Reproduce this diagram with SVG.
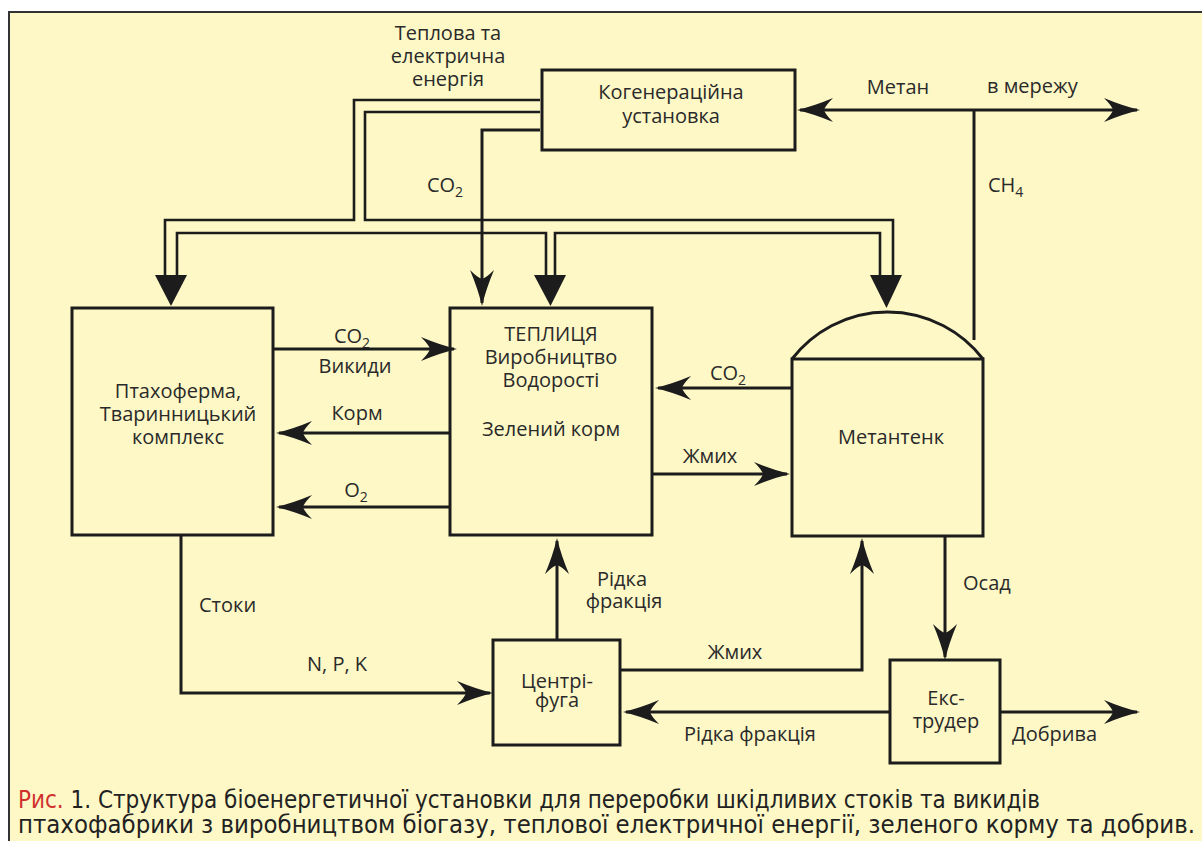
<svg xmlns="http://www.w3.org/2000/svg" width="1202" height="841" viewBox="0 0 1202 841">
<style>
.box{fill:none;stroke:#1c1c1c;stroke-width:3}
.ln{fill:none;stroke:#1c1c1c;stroke-width:3}
.pipe{fill:none;stroke:#1c1c1c;stroke-width:2.6}
.head{fill:#1c1c1c}
.lbl{font-family:"Open Sans","Noto Sans",sans-serif;font-size:20px;fill:#2a2a2a}
.c{text-anchor:middle}
.sub{font-size:14px}
.cap{font-family:"Liberation Sans Narrow","DejaVu Sans Condensed","Liberation Sans",sans-serif;font-size:24px;fill:#222}
</style>
<defs>
<marker id="ah" markerUnits="userSpaceOnUse" markerWidth="44" markerHeight="30" viewBox="-40 -14 44 28" refX="-3" refY="0" orient="auto">
<path d="M0,0 Q-17,-4 -36,-12 Q-28,-4 -27,0 Q-28,4 -36,12 Q-17,4 0,0Z" fill="#1c1c1c"/>
</marker>
</defs>
<rect width="1202" height="841" fill="#ffffff"/>
<rect x="9" y="12" width="1200" height="840" fill="#fdf8c6" stroke="#333" stroke-width="2"/>

<g id="connectors">
<path class="pipe" d="M540,100 H354 V220 H165 V277"/>
<path class="pipe" d="M540,112 H365 V220 H893 V277"/>
<path class="pipe" d="M177,277 V233 H546 V277"/>
<path class="pipe" d="M555,277 V233 H880 V277"/>
<polygon class="head" points="155,275 187,275 171,306"/>
<polygon class="head" points="534,275 566,275 550.5,306"/>
<polygon class="head" points="870,275 902,275 886.5,308"/>
<path class="ln" d="M540,130 H482 V303" marker-end="url(#ah)"/>
<path class="ln" d="M974,110 H800" marker-end="url(#ah)"/>
<path class="ln" d="M974,110 H1137" marker-end="url(#ah)"/>
<path class="ln" d="M974,340 V110"/>
<path class="ln" d="M273,349 H454" marker-end="url(#ah)"/>
<path class="ln" d="M450,433 H279" marker-end="url(#ah)"/>
<path class="ln" d="M450,507 H279" marker-end="url(#ah)"/>
<path class="ln" d="M792,388 H658" marker-end="url(#ah)"/>
<path class="ln" d="M652,474 H787" marker-end="url(#ah)"/>
<path class="ln" d="M181,535 V693 H490" marker-end="url(#ah)"/>
<path class="ln" d="M557,640 V541" marker-end="url(#ah)"/>
<path class="ln" d="M620,670 H862 V541" marker-end="url(#ah)"/>
<path class="ln" d="M890,712 H626" marker-end="url(#ah)"/>
<path class="ln" d="M945,536 V657" marker-end="url(#ah)"/>
<path class="ln" d="M1000,712 H1137" marker-end="url(#ah)"/>
<g class="lbl">
<text class="c" x="448" y="40">Теплова та</text>
<text class="c" x="448" y="63">електрична</text>
<text class="c" x="448" y="86">енергія</text>
<text class="c" x="445" y="192">CO<tspan class="sub" dy="5">2</tspan></text>
<text class="c" x="898" y="94">Метан</text>
<text x="987" y="93">в мережу</text>
<text x="988" y="192">CH<tspan class="sub" dy="5">4</tspan></text>
<text class="c" x="352" y="343">CO<tspan class="sub" dy="5">2</tspan></text>
<text class="c" x="355" y="373">Викиди</text>
<text class="c" x="357" y="420">Корм</text>
<text class="c" x="356" y="497">O<tspan class="sub" dy="5">2</tspan></text>
<text class="c" x="728" y="380">CO<tspan class="sub" dy="5">2</tspan></text>
<text class="c" x="710" y="463">Жмих</text>
<text x="199" y="612">Стоки</text>
<text class="c" x="337" y="671">N, P, K</text>
<text class="c" x="622" y="586">Рідка</text>
<text class="c" x="624" y="608">фракція</text>
<text class="c" x="735" y="659">Жмих</text>
<text class="c" x="750" y="741">Рідка фракція</text>
<text x="963" y="590">Осад</text>
<text x="1012" y="741">Добрива</text>
</g>
</g>

<g id="cogeneration">
<rect class="box" x="542" y="70" width="253" height="80"/>
<text class="lbl c" x="671" y="99">Когенераційна</text>
<text class="lbl c" x="671" y="123">установка</text>
</g>

<g id="poultry">
<rect class="box" x="72" y="308" width="201" height="227"/>
<text class="lbl c" x="178" y="398">Птахоферма,</text>
<text class="lbl c" x="178" y="421">Тваринницький</text>
<text class="lbl c" x="178" y="444">комплекс</text>
</g>

<g id="greenhouse">
<rect class="box" x="450" y="308" width="202" height="227"/>
<text class="lbl c" x="551" y="341">ТЕПЛИЦЯ</text>
<text class="lbl c" x="551" y="364">Виробництво</text>
<text class="lbl c" x="551" y="387">Водорості</text>
<text class="lbl c" x="551" y="436">Зелений корм</text>
</g>

<g id="digester">
<path class="box" d="M792,359 A120.5,120.5 0 0 1 983,359"/>
<rect class="box" x="792" y="359" width="191" height="177"/>
<text class="lbl c" x="891" y="444">Метантенк</text>
</g>

<g id="centrifuge">
<rect class="box" x="493" y="640" width="127" height="105"/>
<text class="lbl c" x="557" y="688">Центрі-</text>
<text class="lbl c" x="557" y="707">фуга</text>
</g>

<g id="extruder">
<rect class="box" x="890" y="660" width="110" height="103"/>
<text class="lbl c" x="946" y="705">Екс-</text>
<text class="lbl c" x="946" y="728">трудер</text>
</g>

<g id="caption">
<text class="cap" x="18" y="808" textLength="1022" lengthAdjust="spacingAndGlyphs"><tspan fill="#d0312d">Рис.</tspan> 1. Структура біоенергетичної установки для переробки шкідливих стоків та викидів</text>
<text class="cap" x="18" y="833" textLength="1177" lengthAdjust="spacingAndGlyphs">птахофабрики з виробництвом біогазу, теплової електричної енергії, зеленого корму та добрив.</text>
</g>
</svg>
